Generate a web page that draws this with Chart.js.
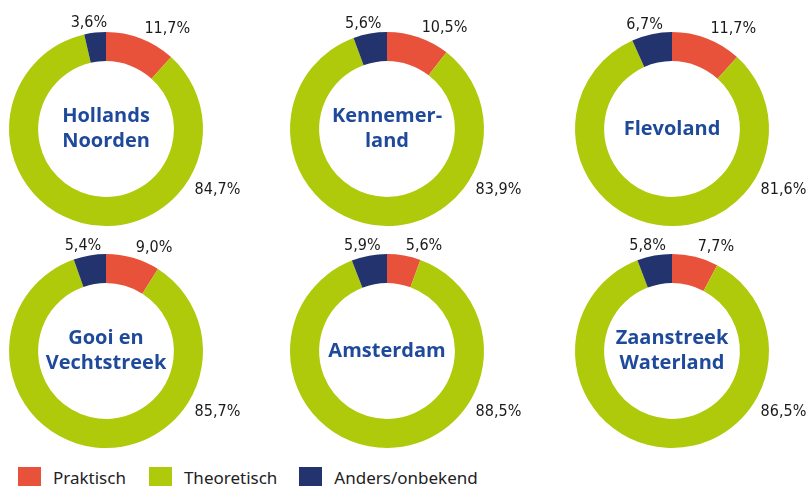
<!DOCTYPE html>
<html>
<head>
<meta charset="utf-8">
<script src="https://cdn.jsdelivr.net/npm/chart.js@4/dist/chart.umd.min.js"></script>
<style>
  html, body { margin: 0; padding: 0; background: #fff; }
  body { width: 808px; height: 486px; position: relative; overflow: hidden; }
  canvas { position: absolute; }
  #legend { position: absolute; left: 18px; top: 467px; display: flex; font-family: "Noto Sans", sans-serif; font-size: 17px; color: #222; }
  .item { display: flex; align-items: flex-start; }
  .swatch { width: 23px; height: 23px; margin-right: 12px; }
  .label { line-height: 17px; margin-top: 2px; white-space: nowrap; }
</style>
</head>
<body>
<div id="legend"></div>
<script>
// data
const regions = [['Hollands', 'Noorden'], ['Kennemer-', 'land'], ['Flevoland'],
                 ['Gooi en', 'Vechtstreek'], ['Amsterdam'], ['Zaanstreek', 'Waterland']];
const categories = ['Praktisch', 'Theoretisch', 'Anders/onbekend'];
const praktisch   = [11.7, 10.5, 11.7, 9.0, 5.6, 7.7];
const theoretisch = [84.7, 83.9, 81.6, 85.7, 88.5, 86.5];
const anders      = [3.6, 5.6, 6.7, 5.4, 5.9, 5.8];

const colors = ['#E8523A', '#AFCA0B', '#23336D'];

// layout of the grid
const centersX = [106, 387, 672];
const centersY = [129, 351];
const W = 280, H = 236, R = 97;

// percentage labels outside the ring
const outsideLabels = {
    id: 'outsideLabels',
    afterDatasetsDraw(chart) {
        const ctx = chart.ctx;
        const arcs = chart.getDatasetMeta(0).data;
        const vals = chart.data.datasets[0].data;
        ctx.save();
        ctx.font = '16px "Liberation Sans Narrow", "DejaVu Sans Condensed", sans-serif';
        ctx.fillStyle = '#1a1a1a';
        ctx.textBaseline = 'middle';
        arcs.forEach((arc, i) => {
            const txt = vals[i].toFixed(1).replace('.', ',') + '%';
            const mid = (arc.startAngle + arc.endAngle) / 2;
            let x, y;
            if (i === 0) {
                x = arc.x + Math.cos(mid) * (arc.outerRadius + 10);
                y = arc.y + Math.sin(mid) * (arc.outerRadius + 10);
                ctx.textAlign = 'left';
            } else if (i === 2) {
                x = arc.x + Math.cos(mid) * (arc.outerRadius + 10) - 5;
                y = arc.y + Math.sin(mid) * (arc.outerRadius + 10);
                ctx.textAlign = 'center';
            } else {
                // theoretisch label sits at the lower right
                x = arc.x + Math.cos(0.5) * (arc.outerRadius + 30);
                y = arc.y + Math.sin(0.5) * (arc.outerRadius + 30);
                ctx.textAlign = 'center';
            }
            ctx.fillText(txt, x, y);
        });
        ctx.restore();
    }
};

// region name in the hole
const centerText = {
    id: 'centerText',
    afterDraw(chart) {
        const arc = chart.getDatasetMeta(0).data[0];
        const lines = chart.options.plugins.centerText.lines;
        const ctx = chart.ctx;
        ctx.save();
        ctx.font = 'bold 20px "Open Sans", sans-serif';
        ctx.fillStyle = '#1F4A9B';
        ctx.textAlign = 'center';
        ctx.textBaseline = 'middle';
        const lh = 25;
        const top = arc.y - (lines.length - 1) * lh / 2;
        lines.forEach((l, k) => ctx.fillText(l, arc.x, top + k * lh));
        ctx.restore();
    }
};

regions.forEach((name, i) => {
    const cx = centersX[i % 3], cy = centersY[Math.floor(i / 3)];
    const canvas = document.createElement('canvas');
    canvas.width = W;
    canvas.height = H;
    canvas.style.left = (cx - W / 2) + 'px';
    canvas.style.top = (cy - H / 2) + 'px';
    document.body.appendChild(canvas);

    new Chart(canvas.getContext('2d'), {
        type: 'doughnut',
        data: {
            labels: categories,
            datasets: [{
                data: [praktisch[i], theoretisch[i], anders[i]],
                backgroundColor: colors,
                borderWidth: 0
            }]
        },
        options: {
            responsive: false,
            animation: false,
            cutout: '70%',
            layout: {
                padding: { left: W / 2 - R, right: W / 2 - R, top: H / 2 - R, bottom: H / 2 - R }
            },
            plugins: {
                legend: { display: false },
                tooltip: { enabled: false },
                centerText: { lines: name }
            }
        },
        plugins: [outsideLabels, centerText]
    });
});

// shared legend
const legend = document.getElementById('legend');
const gaps = [23, 22, 0];
categories.forEach((c, i) => {
    const item = document.createElement('div');
    item.className = 'item';
    item.style.marginRight = gaps[i] + 'px';
    item.innerHTML = '<div class="swatch" style="background:' + colors[i] + '"></div><div class="label">' + c + '</div>';
    legend.appendChild(item);
});
</script>
</body>
</html>
